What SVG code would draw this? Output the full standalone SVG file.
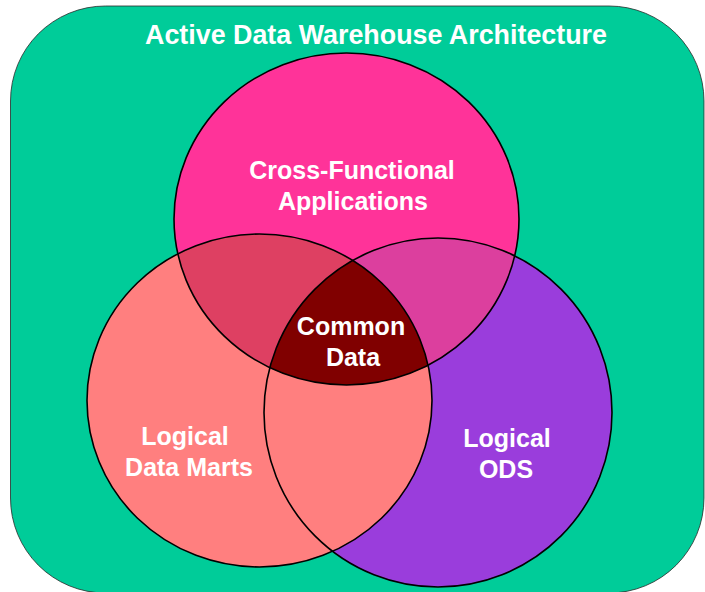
<svg xmlns="http://www.w3.org/2000/svg" width="705" height="592" viewBox="0 0 705 592">
  <style>
    .label { font-family: "Liberation Sans", Arial, sans-serif; font-weight: bold; fill: #ffffff; text-anchor: middle; font-size: 25px; }
    .title { font-size: 26.8px; }
    .ring { fill: none; stroke: #000000; stroke-width: 1.6; }
  </style>
  <defs>
    <ellipse id="setTop" cx="346.5" cy="219" rx="172.5" ry="166"/>
    <ellipse id="setLeft" cx="259.5" cy="400.5" rx="172.5" ry="166.5"/>
    <ellipse id="setRight" cx="438" cy="412.5" rx="174" ry="174.5"/>
    <clipPath id="clipLeft"><use href="#setLeft"/></clipPath>
    <clipPath id="clipRight"><use href="#setRight"/></clipPath>
    <clipPath id="clipTopLeft" clip-path="url(#clipLeft)"><use href="#setTop"/></clipPath>
  </defs>

  <!-- background panel -->
  <rect x="10.5" y="6" width="693.5" height="587" rx="95" ry="95" fill="#00cc99" stroke="#2a2a2a" stroke-width="0.8"/>
  <text class="label title" x="376" y="44" textLength="462" lengthAdjust="spacingAndGlyphs">Active Data Warehouse Architecture</text>

  <!-- sets -->
  <g id="logical-ods">
    <use href="#setRight" fill="#9a3ddc"/>
  </g>
  <g id="logical-data-marts">
    <use href="#setLeft" fill="#ff7f7f"/>
  </g>
  <g id="cross-functional-applications">
    <use href="#setTop" fill="#ff3399"/>
    <!-- overlaps of the top set with the lower two -->
    <use href="#setTop" fill="#de4062" clip-path="url(#clipLeft)"/>
    <use href="#setTop" fill="#dc3f9e" clip-path="url(#clipRight)"/>
  </g>
  <g id="common-data">
    <g clip-path="url(#clipRight)">
      <use href="#setTop" fill="#800000" clip-path="url(#clipLeft)"/>
    </g>
  </g>

  <!-- set outlines -->
  <g id="outlines">
    <use href="#setRight" class="ring"/>
    <use href="#setLeft" class="ring"/>
    <use href="#setTop" class="ring"/>
  </g>

  <!-- labels -->
  <text class="label" x="352" y="179">Cross-Functional</text>
  <text class="label" x="353" y="210">Applications</text>
  <text class="label" x="351" y="335">Common</text>
  <text class="label" x="353" y="366">Data</text>
  <text class="label" x="185" y="445">Logical</text>
  <text class="label" x="189" y="476">Data Marts</text>
  <text class="label" x="507" y="447">Logical</text>
  <text class="label" x="506" y="478">ODS</text>
</svg>
